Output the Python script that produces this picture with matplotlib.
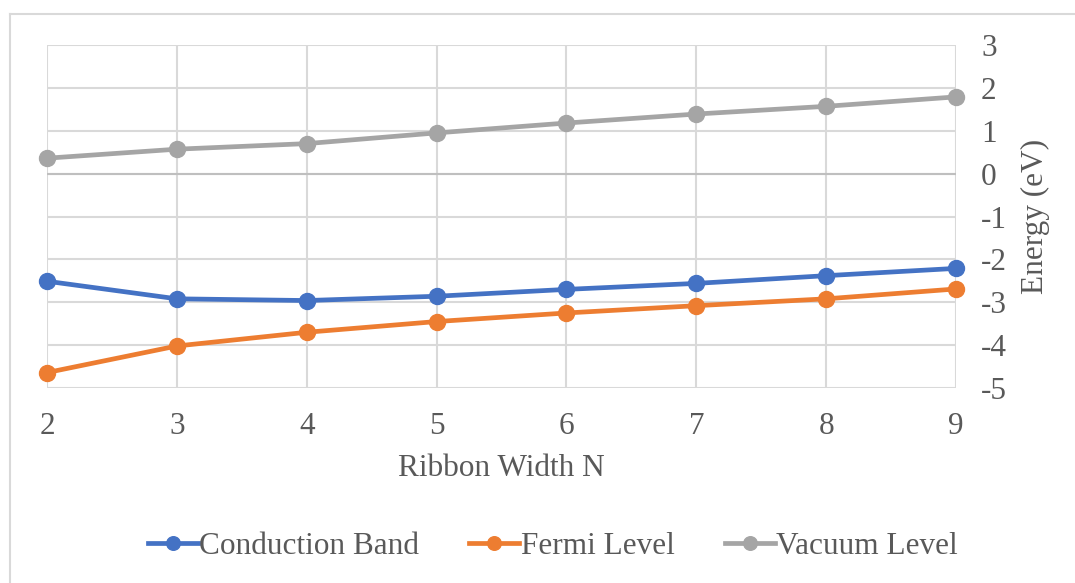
import matplotlib
matplotlib.use("Agg")
import matplotlib.pyplot as plt
from matplotlib.lines import Line2D

plt.rcParams['font.family'] = ['Liberation Serif', 'DejaVu Serif']
plt.rcParams['axes.unicode_minus'] = False

# ribbon width and energy levels (eV)
ribbon_width = [2, 3, 4, 5, 6, 7, 8, 9]
conduction_band = [-2.51, -2.92, -2.96, -2.86, -2.70, -2.56, -2.38, -2.21]
fermi_level = [-4.64, -4.02, -3.70, -3.45, -3.25, -3.08, -2.92, -2.69]
vacuum_level = [0.36, 0.57, 0.70, 0.95, 1.18, 1.39, 1.57, 1.79]
y_ticks = [3, 2, 1, 0, -1, -2, -3, -4, -5]

txt = '#595959'
grid = '#d9d9d9'
fs = 22.5

fig = plt.figure(figsize=(10.75, 5.83), dpi=100)
W, H = 1075, 583

# outer chart border
fig.add_artist(Line2D([10 / W, 10 / W], [0, 1 - 14 / H], color=grid, lw=1.5))
fig.add_artist(Line2D([10 / W, 1], [1 - 14 / H, 1 - 14 / H], color=grid, lw=1.5))

ax = fig.add_axes([47 / W, 1 - 388 / H, 909 / W, 343 / H])

series = [
    ('Conduction Band', conduction_band, '#4472C4'),
    ('Fermi Level', fermi_level, '#ED7D31'),
    ('Vacuum Level', vacuum_level, '#A5A5A5'),
]
for name, vals, col in series:
    ax.plot(ribbon_width, vals, color=col, lw=3.4, marker='o', ms=11.5,
            label=name, zorder=3, clip_on=False)

ax.set_xlim(2, 9)
ax.set_ylim(-5, 3)
ax.set_xticks(ribbon_width)
ax.set_yticks(y_ticks)
ax.grid(True, color=grid, lw=1.5)
ax.axhline(0, color='#bfbfbf', lw=1.5, zorder=2)
for s in ax.spines.values():
    s.set_visible(False)

ax.yaxis.tick_right()
ax.yaxis.set_label_position('right')
ax.tick_params(length=0, labelsize=fs, labelcolor=txt)
ax.tick_params(axis='x', pad=17)
ax.tick_params(axis='y', pad=18)
ax.set_xlabel('Ribbon Width N', fontsize=fs, color=txt, labelpad=10)
ax.set_ylabel('Energy (eV)', fontsize=fs, color=txt, labelpad=10)

ax.legend(loc='center', bbox_to_anchor=(553 / W, 1 - 546 / H),
          bbox_transform=fig.transFigure, ncol=3, frameon=False,
          fontsize=fs, labelcolor=txt, handlelength=1.6, handletextpad=0.05,
          columnspacing=1.6, markerscale=0.85)

fig.savefig('out.png', dpi=100)
